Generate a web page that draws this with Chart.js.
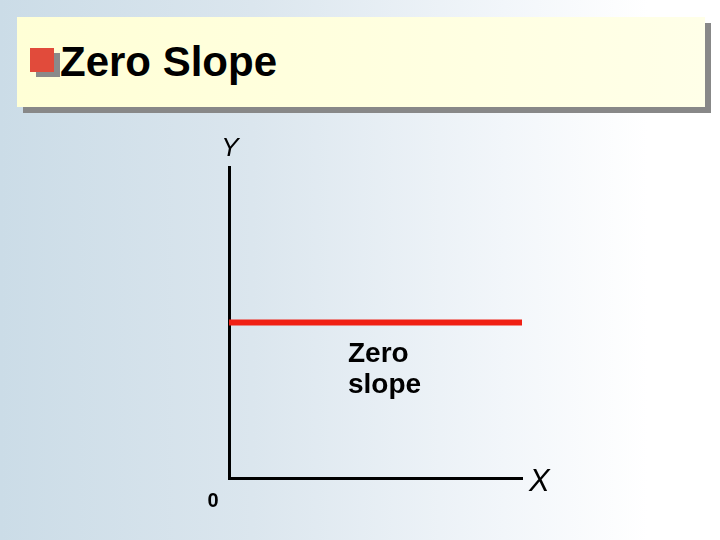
<!DOCTYPE html>
<html>
<head>
<meta charset="utf-8">
<script src="https://cdn.jsdelivr.net/npm/chart.js@4/dist/chart.umd.min.js"></script>
<style>
  html, body { margin: 0; padding: 0; }
  body {
    width: 720px; height: 540px; position: relative; overflow: hidden;
    background: linear-gradient(to right, #cbdce7 0%, #dbe6ee 35%, #f2f6fa 70%, #ffffff 90%);
    font-family: "Liberation Sans", Arial, sans-serif;
  }
  #titleBox {
    position: absolute; left: 17px; top: 17px; width: 688px; height: 90px;
    background: linear-gradient(to right, #ffffd6, #ffffe8);
    box-shadow: 6px 6px 0 #888888;
  }
  #bullet {
    position: absolute; left: 13px; top: 31px; width: 24px; height: 24px;
    background: #e14b3b; box-shadow: 6px 5px 0 #8a8a8a;
  }
  #titleText {
    position: absolute; left: 43px; top: 24px;
    font-size: 42px; font-weight: bold; line-height: 42px; color: #000;
    white-space: nowrap;
  }
  #chart { position: absolute; left: 0; top: 0; }
</style>
</head>
<body>
<div id="titleBox"><div id="bullet"></div><div id="titleText">Zero Slope</div></div>
<canvas id="chart" width="720" height="540"></canvas>
<script>
// the one line on the chart: constant y, so the slope is zero
const lineX = [0, 10];
const lineY = [5, 5];
const axisMin = 0;
const axisMax = 10;
const originLabel = '0';
const xLabel = 'X';
const yLabel = 'Y';
const lineLabel = ['Zero', 'slope'];

const labelPlugin = {
  id: 'axisLabels',
  afterDraw(chart) {
    const ctx = chart.ctx;
    const area = chart.chartArea;
    const xs = chart.scales.x;
    const ys = chart.scales.y;
    const x0 = xs.getPixelForValue(axisMin);
    const lineYpx = ys.getPixelForValue(lineY[0]);
    ctx.save();
    ctx.fillStyle = '#000';
    ctx.textBaseline = 'alphabetic';

    ctx.font = 'italic 26px "Liberation Sans", Arial, sans-serif';
    ctx.textAlign = 'center';
    ctx.fillText(yLabel, x0 + 1, area.top - 11);

    ctx.font = 'italic 31px "Liberation Sans", Arial, sans-serif';
    ctx.textAlign = 'left';
    ctx.fillText(xLabel, area.right + 7, area.bottom + 13);

    ctx.font = 'bold 20px "Liberation Sans", Arial, sans-serif';
    ctx.textAlign = 'center';
    ctx.fillText(originLabel, x0 - 16, area.bottom + 29);

    ctx.font = 'bold 28px "Liberation Sans", Arial, sans-serif';
    ctx.textAlign = 'left';
    const lx = xs.getPixelForValue(4.06);
    ctx.fillText(lineLabel[0], lx, lineYpx + 39);
    ctx.fillText(lineLabel[1], lx, lineYpx + 70);
    ctx.restore();
  }
};

const axisStyle = {
  type: 'linear',
  min: axisMin,
  max: axisMax,
  grid: { display: false, drawTicks: false },
  ticks: { display: false },
  border: { display: true, color: '#000', width: 3 }
};

new Chart(document.getElementById('chart'), {
  type: 'line',
  data: {
    datasets: [{
      data: lineX.map((x, i) => ({ x: x, y: lineY[i] })),
      borderColor: 'rgb(240, 32, 20)',
      borderWidth: 6,
      borderCapStyle: 'butt',
      pointRadius: 0,
      fill: false
    }]
  },
  options: {
    responsive: false,
    animation: false,
    layout: { padding: { left: 229, top: 167, right: 198, bottom: 62 } },
    plugins: { legend: { display: false }, tooltip: { enabled: false } },
    scales: {
      x: Object.assign({}, axisStyle),
      y: Object.assign({}, axisStyle, { z: 1 })
    }
  },
  plugins: [labelPlugin]
});
</script>
</body>
</html>
